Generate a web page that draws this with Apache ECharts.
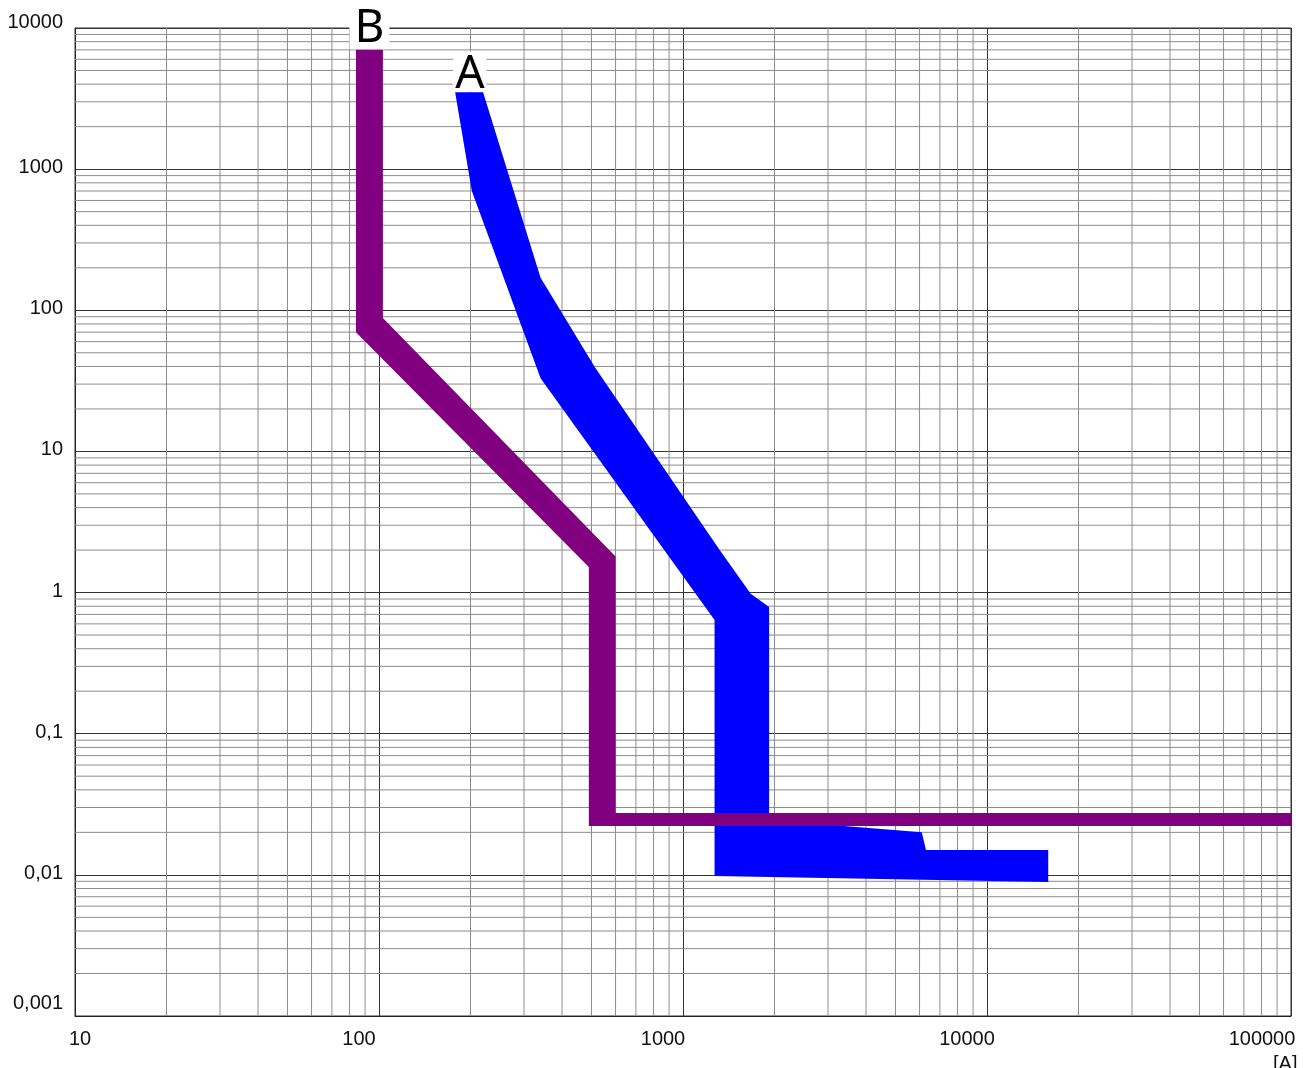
<!DOCTYPE html>
<html>
<head>
<meta charset="utf-8">
<script src="https://cdn.jsdelivr.net/npm/echarts@6/dist/echarts.min.js"></script>
<style>
  html, body { margin: 0; padding: 0; background: #fff; }
  #chart { width: 1303px; height: 1068px; }
</style>
</head>
<body>
<div id="chart"></div>
<script>
// Axis tick labels (decimal comma)
const xTickLabels = ['10', '100', '1000', '10000', '100000'];
const yTickLabels = ['0,001', '0,01', '0,1', '1', '10', '100', '1000', '10000'];

// Tripping band A: outline as [current (A), time (s)]
const bandA = [
  [178, 3500], [220, 3500], [340, 170], [515, 39], [1320, 2], [1670, 0.98], [1920, 0.79],
  [1920, 0.0245], [6100, 0.02], [6300, 0.015], [15900, 0.015], [15900, 0.0089],
  [1270, 0.0098], [1270, 0.64], [340, 33], [202, 700]
];

// Tripping band B: outline as [current (A), time (s)]
const bandB = [
  [84, 7000], [103, 7000], [103, 88], [600, 1.8], [600, 0.0274], [100000, 0.0274],
  [100000, 0.0222], [490, 0.0222], [490, 1.52], [84, 70]
];

// Curve names and where they sit (top of each band)
const curveNames = ['A', 'B'];
const curveAnchors = [[199, 3500], [93, 7000]];

// Minor grid values 2..9 in every decade
const xMinor = [];
for (let d = 10; d < 100000; d *= 10) for (let m = 2; m <= 9; m++) xMinor.push(m * d);
const yMinor = [];
for (let e = -3; e < 4; e++) for (let m = 2; m <= 9; m++) yMinor.push(+(m * Math.pow(10, e)).toPrecision(3));

const LABEL_FONT = '"Liberation Sans", Arial, sans-serif';
const NAME_FONT = '"Noto Sans", "Open Sans", sans-serif';
const MINOR_COLOR = '#8c8c8c';
const MAJOR_COLOR = '#333333';

function polygonSeries(points, color, z) {
  return {
    type: 'custom',
    z: z,
    silent: true,
    clip: true,
    data: points,
    encode: { x: 0, y: 1 },
    renderItem: function (params, api) {
      if (params.dataIndex !== 0) return null;
      return {
        type: 'polygon',
        shape: { points: points.map(function (p) { return api.coord(p); }) },
        style: { fill: color, stroke: null }
      };
    }
  };
}

function gridSeries(values, vertical) {
  return {
    type: 'custom',
    z: 1,
    silent: true,
    data: values.map(function (v) { return vertical ? [v, 1] : [10, v]; }),
    encode: { x: 0, y: 1 },
    renderItem: function (params, api) {
      const cs = params.coordSys;
      const pt = api.coord([api.value(0), api.value(1)]);
      const shape = vertical
        ? { x1: pt[0], y1: cs.y, x2: pt[0], y2: cs.y + cs.height }
        : { x1: cs.x, y1: pt[1], x2: cs.x + cs.width, y2: pt[1] };
      return { type: 'line', shape: shape, style: { stroke: MINOR_COLOR, lineWidth: 1 } };
    }
  };
}

const tickText = { fontFamily: LABEL_FONT, fontSize: 20, lineHeight: 20, color: '#111' };

const chart = echarts.init(document.getElementById('chart'), null, { renderer: 'canvas' });
chart.setOption({
  animation: false,
  backgroundColor: '#fff',
  grid: {
    left: 75, top: 28, width: 1216, height: 988,
    show: true, borderColor: MAJOR_COLOR, borderWidth: 1,
    containLabel: false, outerBoundsMode: 'none'
  },
  xAxis: {
    type: 'log', logBase: 10, min: 10, max: 100000, splitNumber: 4,
    axisLine: { show: true, onZero: false, lineStyle: { color: '#222', width: 1 } },
    axisTick: { show: false },
    minorTick: { show: false },
    splitLine: { show: true, lineStyle: { color: MAJOR_COLOR, width: 1 } },
    axisLabel: {
      margin: 13,
      fontFamily: LABEL_FONT, fontSize: 20, lineHeight: 20, color: '#111',
      formatter: function (v) {
        const i = Math.round(Math.log10(v)) - 1;
        const key = i === 0 ? 'lo' : (i === xTickLabels.length - 1 ? 'hi' : 'n');
        return '{' + key + '|' + xTickLabels[i] + '}';
      },
      rich: {
        n: Object.assign({ padding: [0, 40, 0, 0] }, tickText),
        lo: Object.assign({ padding: [0, 0, 0, 10] }, tickText),
        hi: Object.assign({ padding: [0, 58, 0, 0] }, tickText)
      }
    }
  },
  yAxis: {
    type: 'log', logBase: 10, min: 0.001, max: 10000, splitNumber: 7,
    axisLine: { show: true, onZero: false, lineStyle: { color: '#222', width: 1 } },
    axisTick: { show: false },
    minorTick: { show: false },
    splitLine: { show: true, lineStyle: { color: MAJOR_COLOR, width: 1 } },
    axisLabel: {
      margin: 12,
      fontFamily: LABEL_FONT, fontSize: 20, lineHeight: 20, color: '#111',
      formatter: function (v) {
        const i = Math.round(Math.log10(v)) + 3;
        const key = i === 0 ? 'lo' : (i === yTickLabels.length - 1 ? 'hi' : 'n');
        return '{' + key + '|' + yTickLabels[i] + '}';
      },
      rich: {
        n: Object.assign({ padding: [0, 0, 3, 0] }, tickText),
        lo: Object.assign({ padding: [0, 0, 26, 0] }, tickText),
        hi: Object.assign({ padding: [0, 0, 12, 0] }, tickText)
      }
    }
  },
  graphic: [{
    type: 'text', left: 1273, top: 1054, silent: true,
    style: { text: '[A]', font: '20px ' + LABEL_FONT, fill: '#111' }
  }],
  series: [
    gridSeries(xMinor, true),
    gridSeries(yMinor, false),
    polygonSeries(bandA, '#0000ff', 3),
    polygonSeries(bandB, '#800080', 4),
    {
      type: 'scatter',
      z: 6,
      silent: true,
      symbolSize: 1,
      itemStyle: { color: 'rgba(0,0,0,0)' },
      data: curveNames.map(function (name, i) {
        const isA = name === 'A';
        return {
          name: name,
          value: curveAnchors[i],
          label: {
            color: '#000',
            lineHeight: isA ? 34 : 40,
            padding: isA ? [6, 2, 0, 2] : [6, 5, 0, 5]
          }
        };
      }),
      label: {
        show: true,
        position: 'top',
        distance: 0,
        formatter: function (p) { return p.name; },
        fontFamily: NAME_FONT,
        fontSize: 46,
        color: '#000',
        textBorderWidth: 0,
        textBorderColor: 'rgba(0,0,0,0)',
        textShadowBlur: 0,
        opacity: 1,
        backgroundColor: '#fff'
      }
    }
  ]
});
</script>
</body>
</html>
